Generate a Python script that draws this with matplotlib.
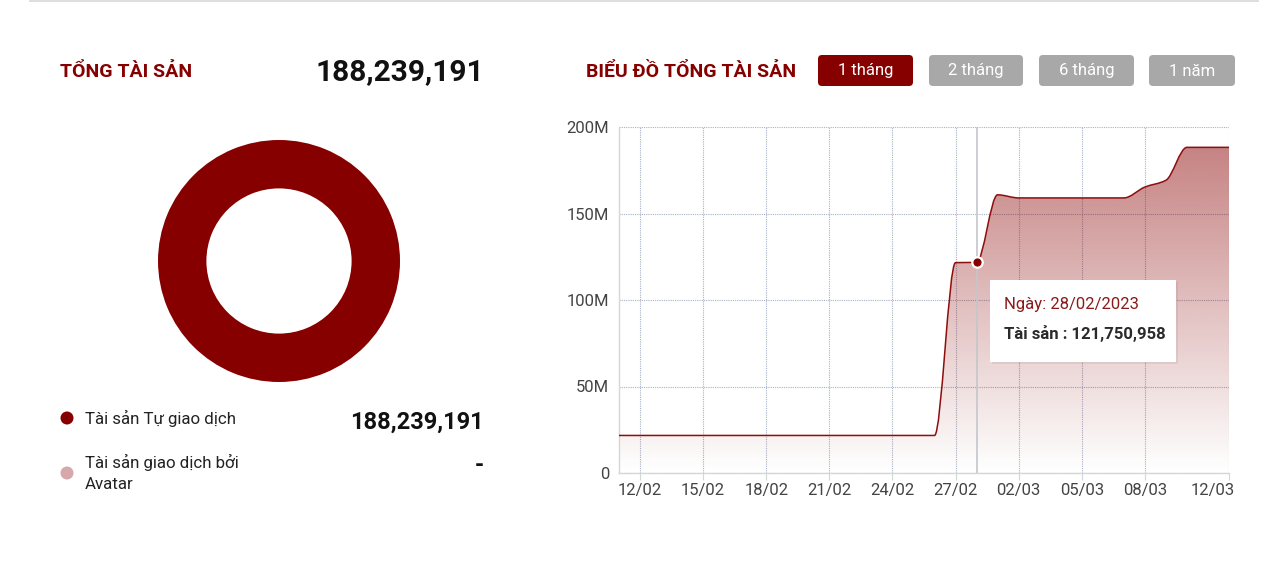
import matplotlib
matplotlib.use("Agg")
import matplotlib.pyplot as plt
import matplotlib.transforms as mtransforms
import numpy as np
from matplotlib.path import Path
from matplotlib.patches import PathPatch, FancyBboxPatch, Rectangle, Circle

plt.rcParams['font.family'] = ['Roboto', 'DejaVu Sans']

# ---------------- data ----------------
dates = ["11/02", "12/02", "13/02", "14/02", "15/02", "16/02", "17/02", "18/02",
         "19/02", "20/02", "21/02", "22/02", "23/02", "24/02", "25/02", "26/02",
         "27/02", "28/02", "01/03", "02/03", "03/03", "04/03", "05/03", "06/03",
         "07/03", "08/03", "09/03", "10/03", "11/03", "12/03"]
values = [21.7e6] * 16 + [121.6e6, 121750958, 160.8e6, 159.0e6, 159.0e6, 159.0e6,
                          159.0e6, 159.0e6, 159.0e6, 165.3e6, 169.2e6,
                          188239191, 188239191, 188239191]
tick_labels = ["12/02", "15/02", "18/02", "21/02", "24/02", "27/02",
               "02/03", "05/03", "08/03", "12/03"]
y_ticks = [0, 50e6, 100e6, 150e6, 200e6]
y_tick_labels = ["0", "50M", "100M", "150M", "200M"]

total_label = "188,239,191"
donut_labels = ["Tài sản Tự giao dịch", "Tài sản giao dịch bởi\nAvatar"]
donut_values = [188239191, 0]
donut_value_text = ["188,239,191", "-"]
buttons = ["1 tháng", "2 tháng", "6 tháng", "1 năm"]
hover_index = 17

DARK = "#870000"
PINK = "#d6a8ab"
GRID = "#a7b1c6"

W, H = 1280, 576
fig = plt.figure(figsize=(W / 100, H / 100), dpi=100)
fig.patch.set_facecolor("white")


def px_rect(x0, y0, x1, y1):
    return [x0 / W, 1 - y1 / H, (x1 - x0) / W, (y1 - y0) / H]


# ---------------- line chart ----------------
ax = fig.add_axes(px_rect(619, 127, 1229, 473))
x = np.arange(len(dates), dtype=float)
y = np.array(values, dtype=float)

# monotone cubic tangents (Fritsch-Carlson) for smooth rendering of the line
d = np.diff(y) / np.diff(x)
m = np.zeros_like(y)
m[0], m[-1] = d[0], d[-1]
for i in range(1, len(y) - 1):
    if d[i - 1] * d[i] <= 0:
        m[i] = 0
    else:
        m[i] = 2 / (1 / d[i - 1] + 1 / d[i])
verts = [(x[0], y[0])]
codes = [Path.MOVETO]
for i in range(len(x) - 1):
    h = x[i + 1] - x[i]
    verts += [(x[i] + h / 3, y[i] + m[i] * h / 3),
              (x[i + 1] - h / 3, y[i + 1] - m[i + 1] * h / 3),
              (x[i + 1], y[i + 1])]
    codes += [Path.CURVE4] * 3
line_path = Path(verts, codes)
fill_path = Path(verts + [(x[-1], 0), (x[0], 0), (x[0], y[0])],
                 codes + [Path.LINETO, Path.LINETO, Path.CLOSEPOLY])

ax.set_xlim(x[0], x[-1])
ax.set_ylim(0, 200e6)

# gradient fill
grad = np.zeros((256, 2, 4))
alpha = np.linspace(0.52, 0.0, 256)
grad[..., 0] = 139 / 255
grad[..., 1] = 0
grad[..., 2] = 0
grad[..., 3] = alpha[:, None]
im = ax.imshow(grad, extent=[x[0], x[-1], 0, 200e6], aspect="auto",
               origin="upper", zorder=1, interpolation="bicubic")
fp = PathPatch(fill_path, facecolor="none", edgecolor="none", transform=ax.transData)
ax.add_patch(fp)
im.set_clip_path(fp)

ax.add_patch(PathPatch(line_path, facecolor="none", edgecolor="#8e0d0d",
                       lw=1.1, zorder=4, transform=ax.transData))

tick_pos = [dates.index(t) for t in tick_labels]
ax.set_xticks(tick_pos)
ax.set_xticklabels(tick_labels)
ax.set_yticks(y_ticks)
ax.set_yticklabels(y_tick_labels)
ax.grid(True, color=GRID, linestyle=(0, (1, 1)), lw=0.8, zorder=0)
ax.set_axisbelow(True)
for s in ["top", "right"]:
    ax.spines[s].set_visible(False)
for s in ["left", "bottom"]:
    ax.spines[s].set_color("#d6d6d6")
    ax.spines[s].set_linewidth(1.0)
ax.tick_params(axis="x", length=5, color="#d6d6d6", labelsize=12,
               labelcolor="#444444", pad=2)
ax.tick_params(axis="y", length=0, labelsize=12, labelcolor="#444444", pad=7)
ax.set_facecolor("white")

# keep the last x label inside the canvas (as the original does)
last_lbl = ax.get_xticklabels()[-1]
last_lbl.set_horizontalalignment("right")
last_lbl.set_transform(last_lbl.get_transform() +
                       mtransforms.ScaledTranslation(6 / 100, 0, fig.dpi_scale_trans))

# hover cursor & point
ax.axvline(x[hover_index], color="#c4c6cc", lw=1.2, zorder=3)
ax.plot([x[hover_index]], [y[hover_index]], "o", ms=7.5, mfc=DARK,
        mec="white", mew=1.6, zorder=6, clip_on=False)

# ---------------- donut ----------------
dax = fig.add_axes(px_rect(158, 140, 400, 382))
dax.pie(donut_values, colors=[DARK, PINK], radius=1, startangle=90,
        counterclock=False, wedgeprops=dict(width=0.40, edgecolor="none"))
dax.set_xlim(-1, 1)
dax.set_ylim(-1, 1)
dax.set_aspect("equal")
dax.axis("off")

# ---------------- overlay (texts, buttons, tooltip) ----------------
ov = fig.add_axes([0, 0, 1, 1], zorder=10)
ov.set_xlim(0, W)
ov.set_ylim(H, 0)
ov.axis("off")
ov.patch.set_alpha(0)

ov.plot([30, 1258], [1, 1], color="#d8d8d8", lw=1.2)

ov.text(60, 72, "TỔNG TÀI SẢN", color=DARK, fontsize=14, fontweight="bold",
        va="center", ha="left")
ov.text(484, 72, total_label, color="#111111", fontsize=21.5, fontweight="bold",
        va="center", ha="right")
ov.text(586, 72, "BIỂU ĐỒ TỔNG TÀI SẢN", color=DARK, fontsize=14,
        fontweight="bold", va="center", ha="left")

btn_x = [(818, 913), (929, 1023), (1039, 1134), (1149, 1235)]
for i, (label, (bx0, bx1)) in enumerate(zip(buttons, btn_x)):
    col = DARK if i == 0 else "#a8a8a8"
    ov.add_patch(FancyBboxPatch((bx0, 55), bx1 - bx0, 31,
                                boxstyle="round,pad=0,rounding_size=4",
                                facecolor=col, edgecolor="none"))
    ov.text((bx0 + bx1) / 2, 71, label, color="white", fontsize=12,
            va="center", ha="center")

# legend of donut
ov.add_patch(Circle((67, 418), 6.5, facecolor=DARK, edgecolor="none"))
ov.text(85, 418, donut_labels[0], fontsize=12.2, color="#222222",
        va="center", ha="left")
ov.text(484, 422, donut_value_text[0], fontsize=17, fontweight="bold",
        color="#111111", va="center", ha="right")
ov.add_patch(Circle((67, 473), 6.5, facecolor=PINK, edgecolor="none"))
ov.text(85, 473, donut_labels[1], fontsize=12.2, color="#222222",
        va="center", ha="left", linespacing=1.45)
ov.text(484, 466, donut_value_text[1], fontsize=17, fontweight="bold",
        color="#111111", va="center", ha="right")

# tooltip
ov.add_patch(Rectangle((992, 282), 186, 82, facecolor="#000000", alpha=0.06,
                       edgecolor="none"))
ov.add_patch(Rectangle((990, 280), 186, 82, facecolor="white", edgecolor="none"))
ov.text(1004, 304, "Ngày: " + "28/02/2023", color="#8b1a1a", fontsize=12,
        va="center", ha="left")
ov.text(1004, 333, "Tài sản : " + f"{values[hover_index]:,.0f}", color="#2a2a2a",
        fontsize=12, fontweight="bold", va="center", ha="left")

fig.savefig("out.png", dpi=100, facecolor="white")
